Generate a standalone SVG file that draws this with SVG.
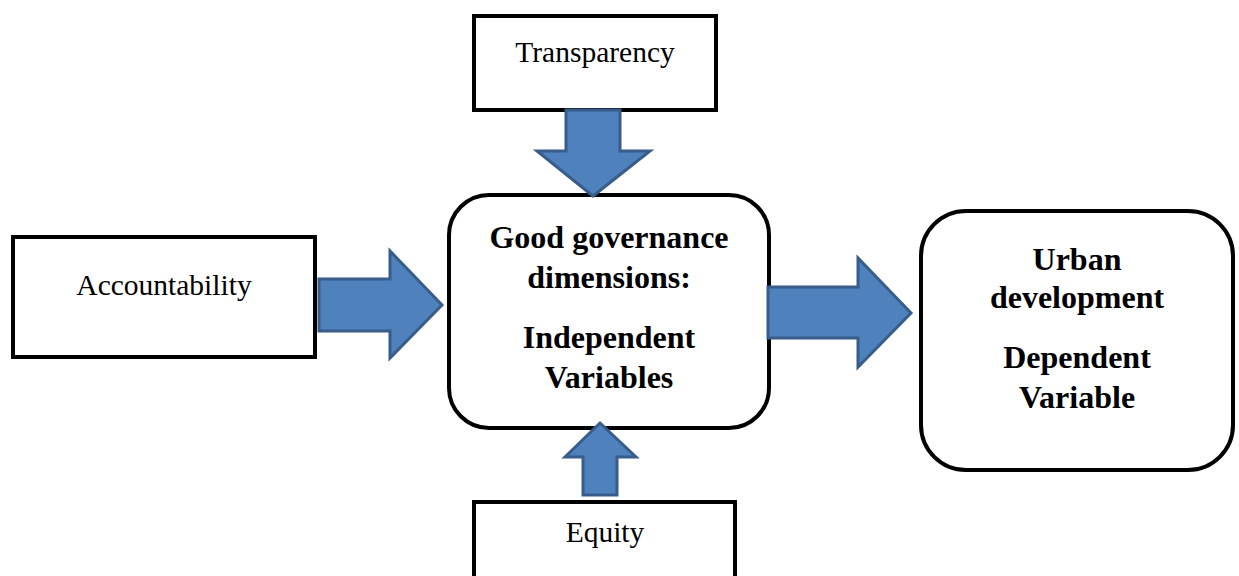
<svg xmlns="http://www.w3.org/2000/svg" width="1239" height="576" viewBox="0 0 1239 576">
  <style>
    .box { fill: #ffffff; stroke: #000000; stroke-width: 4; }
    .arrow { fill: #4F81BD; stroke: #385D8A; stroke-width: 3; stroke-linejoin: miter; }
    .lbl { font-family: "Liberation Serif", "Times New Roman", serif; font-size: 29.5px; fill: #000; text-anchor: middle; }
    .big { font-family: "Liberation Serif", "Times New Roman", serif; font-size: 32px; font-weight: bold; fill: #000; text-anchor: middle; }
  </style>
  <rect width="1239" height="576" fill="#ffffff"/>

  <g id="transparency">
    <rect class="box" x="474" y="16" width="242" height="94"/>
    <text class="lbl" x="595" y="62">Transparency</text>
  </g>

  <g id="accountability">
    <rect class="box" x="13" y="237" width="302" height="120"/>
    <text class="lbl" x="164" y="295">Accountability</text>
  </g>

  <g id="equity">
    <rect class="box" x="474" y="502" width="261" height="90"/>
    <text class="lbl" x="605" y="542">Equity</text>
  </g>

  <g id="governance">
    <rect class="box" x="449" y="195" width="320" height="233" rx="40" ry="40"/>
    <text class="big" x="609" y="248">Good governance</text>
    <text class="big" x="609" y="288">dimensions:</text>
    <text class="big" x="609" y="348">Independent</text>
    <text class="big" x="609" y="388">Variables</text>
  </g>

  <g id="urban">
    <rect class="box" x="921" y="211" width="312" height="259" rx="45" ry="45"/>
    <text class="big" x="1077" y="270">Urban</text>
    <text class="big" x="1077" y="308">development</text>
    <text class="big" x="1077" y="368">Dependent</text>
    <text class="big" x="1077" y="408">Variable</text>
  </g>

  <g id="connectors">
    <!-- Transparency down into the governance box -->
    <polygon class="arrow" points="566,110 620,110 620,151 650,151 593,196 537,151 566,151"/>
    <!-- Accountability right into the governance box -->
    <polygon class="arrow" points="319,279 390,279 390,251 442,305 390,358 390,331 319,331"/>
    <!-- Equity up into the governance box -->
    <polygon class="arrow" points="583,495 617,495 617,457 636,457 600,423 565,457 583,457"/>
    <!-- Governance to urban development -->
    <polygon class="arrow" points="768,287 858,287 858,258 911,313 858,367 858,338 768,338"/>
  </g>
</svg>
